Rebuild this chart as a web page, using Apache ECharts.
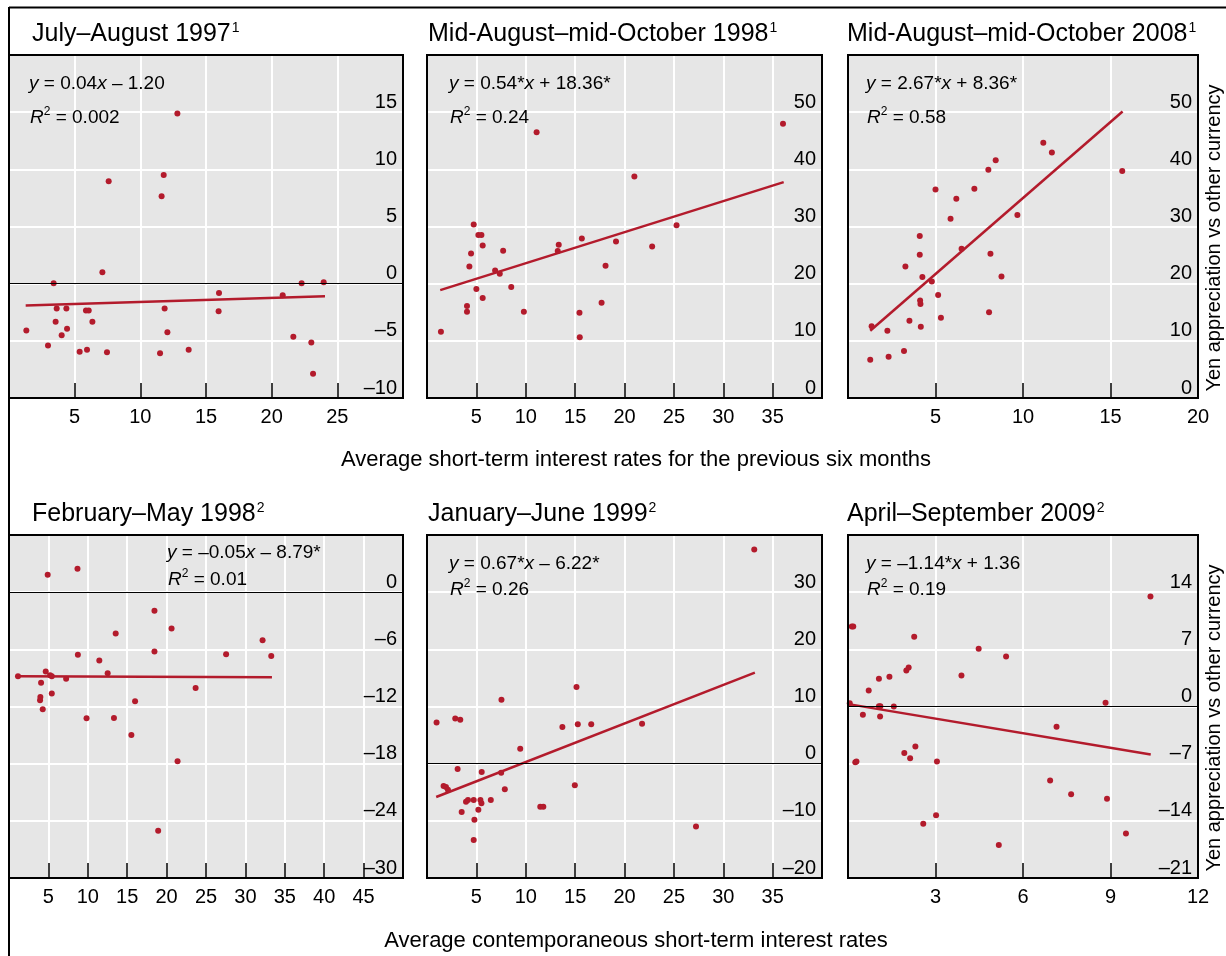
<!DOCTYPE html>
<html>
<head>
<meta charset="utf-8">
<script src="https://cdn.jsdelivr.net/npm/echarts@6/dist/echarts.min.js"></script>
<style>html,body{margin:0;padding:0;background:#fff;}#c{width:1226px;height:956px;}</style>
</head>
<body>
<div id="c"></div>
<script>
// ---------- DATA ----------
const titles = ['July–August 1997', 'Mid-August–mid-October 1998', 'Mid-August–mid-October 2008',
                'February–May 1998', 'January–June 1999', 'April–September 2009'];
const notes = ['1', '1', '1', '2', '2', '2'];
const eqSlope = ['0.04', '0.54*', '2.67*', '–0.05', '0.67*', '–1.14*'];
const eqIntercept = ['– 1.20', '+ 18.36*', '+ 8.36*', '– 8.79*', '– 6.22*', '+ 1.36'];
const eqR2 = ['0.002', '0.24', '0.58', '0.01', '0.26', '0.19'];
const xTitleTop = 'Average short-term interest rates for the previous six months';
const xTitleBottom = 'Average contemporaneous short-term interest rates';
const yTitle = 'Yen appreciation vs other currency';

const xMax = [30, 40, 20, 50, 40, 12];
const xStep = [5, 5, 5, 5, 5, 3];
const yMin = [-10, 0, 0, -30, -20, -21];
const yMax = [20, 60, 60, 6, 40, 21];
const yStep = [5, 10, 10, 6, 10, 7];

const pts1997 = [[1.32,-4.10],[2.97,-5.41],[3.40,0.03],[3.55,-3.34],[3.63,-2.18],[4.01,-4.51],[4.37,-2.18],[4.42,-3.95],
  [5.38,-5.96],[5.86,-2.35],[5.94,-5.78],[6.07,-2.35],[6.35,-3.34],[7.11,0.99],[7.46,-5.99],[7.59,8.95],[11.50,-6.08],
  [11.62,7.65],[11.78,9.51],[11.85,-2.18],[12.06,-4.24],[12.82,14.88],[13.68,-5.78],[15.96,-2.41],[15.99,-0.81],
  [20.84,-1.02],[21.65,-4.65],[22.28,0.03],[23.02,-5.15],[23.15,-7.88],[23.96,0.12]];
const fit1997 = [[1.27,-1.92],[24.06,-1.10]];

const pts1998a = [[1.41,11.6],[4.05,16.08],[4.05,15.09],[4.29,23.02],[4.46,25.29],[4.73,30.36],[5.0,19.06],[5.2,28.5],
  [5.51,28.5],[5.64,26.69],[5.64,17.48],[6.9,22.32],[7.37,21.74],[7.71,25.76],[8.53,19.41],[9.81,15.09],[11.1,46.5],
  [13.24,25.7],[13.34,26.81],[15.44,14.92],[15.47,10.61],[15.68,27.91],[17.68,16.67],[18.08,23.14],[19.14,27.39],
  [21.0,38.75],[22.8,26.52],[25.27,30.24],[36.05,47.96]];
const fit1998a = [[1.34,18.88],[36.12,37.76]];

const pts2008 = [[1.27,6.7],[1.35,12.53],[2.25,11.77],[2.32,7.23],[3.2,8.22],[3.28,23.02],[3.51,13.52],[4.1,28.32],
  [4.1,25.06],[4.12,17.07],[4.14,16.43],[4.16,12.47],[4.25,21.15],[4.79,20.4],[5.0,36.48],[5.15,18.01],[5.31,14.04],
  [5.86,31.35],[6.19,34.85],[6.49,26.11],[7.22,36.6],[8.02,39.92],[8.06,14.98],[8.14,25.23],[8.44,41.61],[8.77,21.27],
  [9.68,31.99],[11.16,44.64],[11.65,42.95],[15.67,39.69]];
const fit2008 = [[1.27,11.77],[15.69,50.12]];

const pts1998b = [[1.14,-8.82],[3.94,-11.34],[3.98,-10.99],[4.07,-9.52],[4.28,-12.29],[4.66,-8.33],[4.91,1.82],[5.21,-8.72],
  [5.43,-8.82],[5.43,-10.64],[7.25,-9.10],[8.69,2.45],[8.74,-6.58],[9.84,-13.23],[11.46,-7.18],[12.52,-8.51],[13.32,-13.20],
  [13.54,-4.34],[15.53,-14.98],[16.0,-11.45],[18.46,-1.96],[18.46,-6.23],[18.93,-25.03],[20.63,-3.82],[21.39,-17.75],
  [23.68,-10.05],[27.55,-6.51],[32.18,-5.04],[33.28,-6.69]];
const fit1998b = [[1.14,-8.82],[33.37,-8.93]];

const pts1999 = [[0.97,7.18],[1.68,-3.91],[1.92,-4.08],[2.12,-4.55],[2.86,7.88],[3.10,-0.93],[3.37,7.70],[3.51,-8.46],
  [3.95,-6.65],[4.15,-6.36],[4.73,-6.36],[4.73,-13.36],[4.80,-9.80],[5.20,-8.05],[5.41,-6.36],[5.51,-6.94],[5.54,-1.46],
  [6.46,-6.36],[7.51,-1.58],[7.54,11.20],[7.88,-4.49],[9.44,2.63],[11.47,-7.53],[11.78,-7.53],[13.71,6.42],[14.97,-3.79],
  [15.14,13.42],[15.27,6.88],[16.63,6.88],[21.78,7.00],[27.24,-10.97],[33.14,37.46]];
const fit1999 = [[0.93,-5.83],[33.2,15.93]];

const pts2009 = [[0.06,0.41],[0.13,9.8],[0.18,9.8],[0.25,-6.82],[0.29,-6.74],[0.51,-1.02],[0.71,1.96],[1.06,3.39],
  [1.06,0.04],[1.11,0.04],[1.10,-1.22],[1.42,3.63],[1.57,0.0],[1.93,-5.68],[2.0,4.41],[2.08,4.78],[2.13,-6.33],[2.27,8.53],
  [2.31,-4.9],[2.58,-14.37],[3.02,-13.31],[3.05,-6.74],[3.89,3.8],[4.48,7.06],[5.17,-16.95],[5.42,6.12],[6.93,-9.07],
  [7.15,-2.49],[7.65,-10.74],[8.83,0.45],[8.88,-11.31],[9.53,-15.56],[10.37,13.47]];
const fit2009 = [[0.02,0.29],[10.38,-5.88]];

const points = [pts1997, pts1998a, pts2008, pts1998b, pts1999, pts2009];
const fits = [fit1997, fit1998a, fit2008, fit1998b, fit1999, fit2009];

// ---------- LAYOUT / STYLE ----------
const FONT = '"Liberation Sans", Arial, Helvetica, sans-serif';
const grids = [[9,55,394,343],[427,55,395,343],[848,55,350,343],[9,535,394,343],[427,535,395,343],[848,535,350,343]];
const showMaxX = [false, false, true, false, false, true];
const titleX = [32, 428, 847, 32, 428, 847];
const titleY = [34, 34, 34, 514, 514, 514];
const eqPos = [[29,84,118],[449,84,118],[866,84,118],[167,553,580],[449,564,590],[866,564,590]];
const RED = '#b31b2c';
const fmt = v => (v < 0 ? '–' + Math.abs(v) : String(v));

const option = {
  animation: false,
  backgroundColor: '#fff',
  grid: grids.map(g => ({left: g[0], top: g[1], width: g[2], height: g[3], show: true,
    backgroundColor: '#e6e6e6', borderWidth: 0, containLabel: false})),
  xAxis: grids.map((g, i) => ({
    gridIndex: i, type: 'value', min: 0, max: xMax[i], interval: xStep[i], position: 'bottom',
    axisLine: {show: false, onZero: false},
    axisTick: {show: true, inside: true, length: 15, lineStyle: {color: '#000', width: 1.5}},
    axisLabel: {margin: 9, fontSize: 20, color: '#000', fontFamily: FONT, showMinLabel: false, showMaxLabel: showMaxX[i]},
    splitLine: {show: true, lineStyle: {color: '#fff', width: 2}}
  })),
  yAxis: grids.map((g, i) => ({
    gridIndex: i, type: 'value', position: 'right', min: yMin[i], max: yMax[i], interval: yStep[i],
    axisLine: {show: false, onZero: false}, axisTick: {show: false},
    axisLabel: {inside: true, verticalAlign: 'bottom', margin: 6, fontSize: 20, color: '#000', fontFamily: FONT,
      showMaxLabel: false, showMinLabel: true, formatter: fmt},
    splitLine: {show: true, lineStyle: {color: '#fff', width: 2}}
  })),
  series: []
};

points.forEach((p, i) => {
  const s = {type: 'scatter', xAxisIndex: i, yAxisIndex: i, data: p, symbolSize: 6, z: 4,
    itemStyle: {color: RED, opacity: 1}};
  if (yMin[i] < 0) {
    s.markLine = {silent: true, symbol: 'none', label: {show: false}, animation: false,
      lineStyle: {color: '#000', width: 1.2, type: 'solid'}, data: [{yAxis: 0}]};
  }
  option.series.push(s);
  option.series.push({type: 'line', xAxisIndex: i, yAxisIndex: i, data: fits[i], showSymbol: false, symbol: 'none',
    z: 3, lineStyle: {color: RED, width: 2.5}});
});

const graphics = [];
// outer frame
graphics.push({type: 'line', z: 100, shape: {x1: 9, y1: 7.5, x2: 1226, y2: 7.5}, style: {stroke: '#000', lineWidth: 2}});
graphics.push({type: 'line', z: 100, shape: {x1: 9, y1: 7, x2: 9, y2: 956}, style: {stroke: '#000', lineWidth: 2}});
grids.forEach((g, i) => {
  graphics.push({type: 'rect', z: 100, shape: {x: g[0], y: g[1], width: g[2], height: g[3]},
    style: {fill: 'none', stroke: '#000', lineWidth: 2}});
  graphics.push({type: 'text', z: 100, x: titleX[i], y: titleY[i], style: {
    text: '{t|' + titles[i] + '}{s|' + notes[i] + '}', align: 'left', verticalAlign: 'middle',
    textAlign: 'left', textVerticalAlign: 'middle',
    rich: {t: {fontSize: 25, fontFamily: FONT, fill: '#000', lineHeight: 30, verticalAlign: 'middle'},
           s: {fontSize: 14, fontFamily: FONT, fill: '#000', lineHeight: 30, verticalAlign: 'top', padding: [2, 0, 0, 1]}}
  }});
  const rich = {n: {fontSize: 19, fontFamily: FONT, fill: '#000', lineHeight: 24},
                i: {fontSize: 19, fontFamily: FONT, fill: '#000', fontStyle: 'italic', lineHeight: 24},
                s: {fontSize: 12, fontFamily: FONT, fill: '#000', lineHeight: 24, verticalAlign: 'top'}};
  graphics.push({type: 'text', z: 100, x: eqPos[i][0], y: eqPos[i][1], style: {
    text: '{i|y}{n| = ' + eqSlope[i] + '}{i|x}{n| ' + eqIntercept[i] + '}', align: 'left', verticalAlign: 'middle',
    textAlign: 'left', textVerticalAlign: 'middle', rich: rich}});
  graphics.push({type: 'text', z: 100, x: eqPos[i][0] + 1, y: eqPos[i][2], style: {
    text: '{i|R}{s|2}{n| = ' + eqR2[i] + '}', align: 'left', verticalAlign: 'middle',
    textAlign: 'left', textVerticalAlign: 'middle', rich: rich}});
});
graphics.push({type: 'text', z: 100, x: 636, y: 460, style: {text: xTitleTop, fontSize: 22, fontFamily: FONT, fill: '#000',
  align: 'center', verticalAlign: 'middle', textAlign: 'center', textVerticalAlign: 'middle'}});
graphics.push({type: 'text', z: 100, x: 636, y: 941, style: {text: xTitleBottom, fontSize: 22, fontFamily: FONT, fill: '#000',
  align: 'center', verticalAlign: 'middle', textAlign: 'center', textVerticalAlign: 'middle'}});
[238, 718].forEach(cy => graphics.push({type: 'text', z: 100, x: 1214, y: cy, rotation: Math.PI / 2, style: {
  text: yTitle, fontSize: 20, fontFamily: FONT, fill: '#000',
  align: 'center', verticalAlign: 'middle', textAlign: 'center', textVerticalAlign: 'middle'}}));
option.graphic = {elements: graphics};

const chart = echarts.init(document.getElementById('c'), null, {renderer: 'canvas'});
chart.setOption(option);
</script>
</body>
</html>
